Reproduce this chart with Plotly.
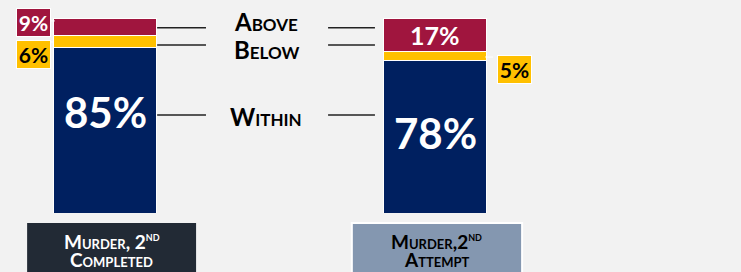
import plotly.graph_objects as go

# ---- data ----
categories = ["Murder, 2<sup>nd</sup><br>Completed", "Murder,2<sup>nd</sup><br>Attempt"]
within = [85, 78]
below = [6, 5]
above = [9, 17]
series_names = ["Within", "Below", "Above"]

NAVY = "#002060"
GOLD = "#FFC000"
RED = "#A0153E"
BG = "#F2F2F2"
FONT = "Lato"

x = [0, 1]
BW = 0.315

fig = go.Figure()
for name, vals, col in [("Within", within, NAVY), ("Below", below, GOLD), ("Above", above, RED)]:
    fig.add_trace(go.Bar(x=x, y=vals, name=name, width=BW, marker=dict(color=col, line=dict(color="white", width=1)),
                         hoverinfo="skip"))

ann = []
# big "within" labels
within_shift = [18, 4]
for i in range(2):
    ann.append(dict(x=x[i], y=within[i] / 2, yshift=within_shift[i], text=f"{within[i]}%", showarrow=False,
                    font=dict(family=FONT, size=42, color="white", weight=700)))

# bar 1 outside labels (above and below) to the left
ann.append(dict(x=x[0], y=within[0] + below[0] + above[0], xshift=-72, yshift=-4, yanchor="middle",
                text=f"{above[0]}%", showarrow=False, width=33, height=27, borderpad=0,
                bgcolor=RED, bordercolor="white", borderwidth=1,
                font=dict(family=FONT, size=21, color="white", weight=700)))
ann.append(dict(x=x[0], y=within[0] + below[0] + above[0], xshift=-72, yshift=-36, yanchor="middle",
                text=f"{below[0]}%", showarrow=False, width=33, height=27, borderpad=0,
                bgcolor=GOLD, bordercolor="white", borderwidth=1,
                font=dict(family=FONT, size=21, color="black", weight=700)))
# bar 2 above label inside
ann.append(dict(x=x[1], y=within[1] + below[1] + above[1] / 2, yshift=0, text=f"{above[1]}%", showarrow=False,
                font=dict(family=FONT, size=25, color="white", weight=700)))
# bar 2 below label outside right
ann.append(dict(x=x[1], y=within[1] + below[1] / 2, xshift=79, yshift=-13, text=f"{below[1]}%", showarrow=False,
                width=33, height=27, borderpad=0, bgcolor=GOLD, bordercolor="white", borderwidth=1,
                font=dict(family=FONT, size=21, color="black", weight=700)))

# middle legend labels
mid_x = 0.488
legend_y = [98.4, 83.6, 49.7]
for name, yy in zip(["Above", "Below", "Within"], legend_y):
    ann.append(dict(x=mid_x, y=yy, text=name, showarrow=False,
                    font=dict(family=FONT, size=24, color="black", weight=700, variant="small-caps")))

# category boxes (shapes) + label text lines
shapes = []
cat_bg = ["#222A35", "#8497B0"]
cat_fg = ["white", "black"]
box_x = [(-0.236, 0.276), (0.748, 1.264)]
box_line = [None, "white"]
for i in range(2):
    shapes.append(dict(type="rect", xref="x", yref="paper", x0=box_x[i][0], x1=box_x[i][1], y0=-0.40, y1=-0.0513,
                       fillcolor=cat_bg[i], line=dict(color=box_line[i] or cat_bg[i], width=2 if box_line[i] else 0),
                       layer="above"))
    cx = (box_x[i][0] + box_x[i][1]) / 2
    for j, line_txt in enumerate(categories[i].split("<br>")):
        ann.append(dict(x=cx, y=[-0.1436, -0.2410][j], yref="paper", yanchor="middle", xanchor="center",
                        yshift=1 if j == 0 else 0,
                        text=line_txt, showarrow=False,
                        font=dict(family=FONT, size=19, color=cat_fg[i], weight=700, variant="small-caps")))

fig.update_layout(annotations=ann)

# leader lines
line_y = [95, 86.2, 50.3]
for yy in line_y:
    shapes.append(dict(type="line", xref="x", yref="y", x0=0.158, x1=0.306, y0=yy, y1=yy,
                       line=dict(color="#222", width=1.5)))
    shapes.append(dict(type="line", xref="x", yref="y", x0=0.676, x1=0.818, y0=yy, y1=yy,
                       line=dict(color="#222", width=1.5)))
# small white connector ticks
shapes.append(dict(type="line", xref="x", yref="y", x0=-0.179, x1=-0.152, y0=98.5, y1=98.5, line=dict(color="white", width=1)))
shapes.append(dict(type="line", xref="x", yref="y", x0=-0.185, x1=-0.155, y0=87.7, y1=87.7, line=dict(color="white", width=1)))
shapes.append(dict(type="line", xref="x", yref="y", x0=1.152, x1=1.176, y0=80, y1=80, line=dict(color="white", width=1)))
fig.update_layout(shapes=shapes)

fig.update_layout(
    width=741, height=272,
    margin=dict(l=0, r=0, t=18, b=59),
    paper_bgcolor=BG, plot_bgcolor=BG,
    barmode="stack", showlegend=False,
    xaxis=dict(range=[-105 / 330, 636 / 330], visible=False, fixedrange=True),
    yaxis=dict(range=[0, 100], visible=False, fixedrange=True),
)

fig.write_html("out.html", config=dict(displayModeBar=False))

# remove default page margin so the figure fills the window
with open("out.html", "r", encoding="utf-8") as f:
    html = f.read()
html = html.replace("<head>", "<head><style>html,body{margin:0;padding:0;overflow:hidden;background:#F2F2F2;}</style>", 1)
with open("out.html", "w", encoding="utf-8") as f:
    f.write(html)
